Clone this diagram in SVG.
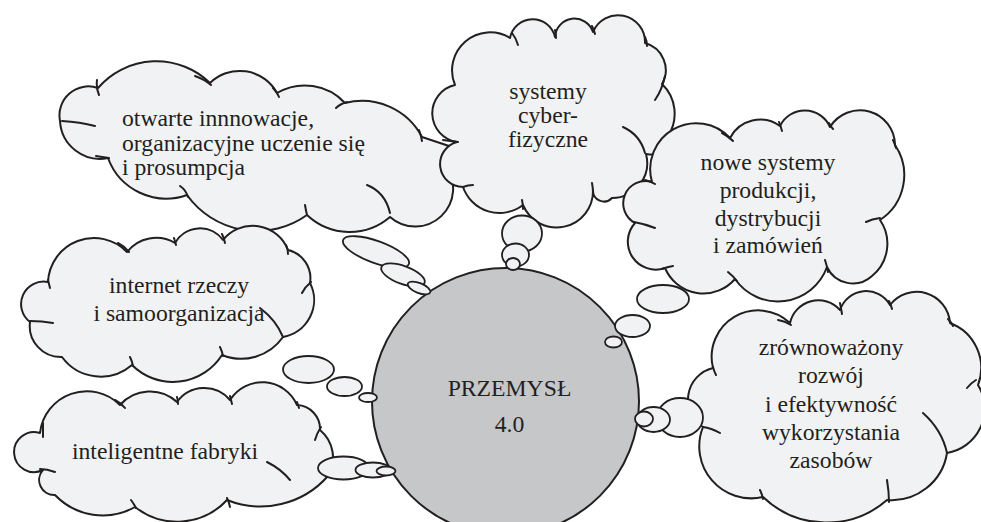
<svg xmlns="http://www.w3.org/2000/svg" width="981" height="522" viewBox="0 0 981 522">
<style>
.cloud{fill:#f1f2f3;stroke:#231f20;stroke-width:2;stroke-linejoin:round}
.crease{fill:none;stroke:#231f20;stroke-width:2;stroke-linecap:round}
.bub{fill:#f1f2f3;stroke:#231f20;stroke-width:1.8}
.hub{fill:#c6c7c9;stroke:#231f20;stroke-width:2}
.t{font-family:"Liberation Serif","Times New Roman",serif;font-size:23.7px;fill:#231f20}
.c{text-anchor:middle}
</style>
<rect width="981" height="522" fill="#ffffff"/>
<g id="cloud-otwarte">
<path class="cloud" d="M98,88 A77,77 0 0 1 210,83 A42.5,42.5 0 0 1 277,93 A55,55 0 0 1 345,103 A68,68 0 0 1 422,137 L455,148 L445,165 A38,38 0 0 1 390,217 A62,62 0 0 1 307,215 A86,86 0 0 1 187,195 A62,62 0 0 1 108,158 A40,40 0 0 1 60,121 A29,29 0 0 1 98,88 Z"/>
<path class="crease" d="M97,80 Q96,88 99,95 M195,76 Q204,79 211,85 M273,88 Q277,92 279,97 M336,108 Q340,104 347,102 M419,130 Q421,135 422,141 M367,185 Q385,192 390,213 M305,205 Q306,211 307,215 M180,186 Q186,190 188,197 M96,156 Q102,157 109,158 M62,121 Q80,122 95,126"/>
<text class="t" x="122" y="126">otwarte innnowacje,</text>
<text class="t" x="122" y="150.5">organizacyjne uczenie się</text>
<text class="t" x="122" y="175">i prosumpcja</text>
</g>
<g id="cloud-systemy">
<path class="cloud" d="M455,85 A38,38 0 0 1 510,38 A23,23 0 0 1 555,37 A19.5,19.5 0 0 1 593,32 A27,27 0 0 1 645,43 A28,28 0 0 1 662,84 A41,41 0 0 1 668,136 Q670,158 646,154 A35,35 0 0 1 612,198 A11,11 0 0 1 593,190 A36.4,36.4 0 0 1 523,205 A38.6,38.6 0 0 1 463,187 A22.9,22.9 0 0 1 457,142 A29,29 0 0 1 455,85 Z"/>
<path class="crease" d="M512,33 Q516,38 518,45 M555,30 Q556,34 556,38 M592,26 Q594,30 595,34 M645,37 Q647,41 647,46 M665,76 Q662,90 655,100 M623,127 A40,40 0 0 1 645,153 M592,183 Q593,188 593,193 M522,200 Q523,204 523,209 M463,187 Q468,185 473,185 M443,140 Q450,141 458,142"/>
<text class="t c" x="548" y="99">systemy</text>
<text class="t c" x="548" y="123">cyber-</text>
<text class="t c" x="548" y="147">fizyczne</text>
</g>
<g id="cloud-nowe">
<path class="cloud" d="M652,182 A46,46 0 0 1 730,138 A34,34 0 0 1 780,126 A27.5,27.5 0 0 1 830,127 A35.1,35.1 0 0 1 895,145 A53.7,53.7 0 0 1 880,220 A41.7,41.7 0 0 1 872,276 A28.5,28.5 0 0 1 827,267 A52.2,52.2 0 0 1 735,279 A41.7,41.7 0 0 1 665,268 A27.9,27.9 0 0 1 635,223 A22.3,22.3 0 0 1 652,182 Z"/>
<path class="crease" d="M722,133 Q728,136 733,141 M779,122 Q781,127 782,131 M829,123 Q831,127 833,129 M893,140 Q895,144 896,148 M866,222 Q872,219 880,218 M825,260 Q827,266 828,272 M728,272 Q733,276 737,281 M662,269 Q667,267 673,266 M634,222 Q645,224 655,228 M645,180 Q650,181 655,184"/>
<text class="t c" x="768" y="170">nowe systemy</text>
<text class="t c" x="768" y="198">produkcji,</text>
<text class="t c" x="768" y="226">dystrybucji</text>
<text class="t c" x="768" y="253">i zamówień</text>
</g>
<g id="cloud-zrownowazony">
<path class="cloud" d="M713,368 A46.5,46.5 0 0 1 790,323 A29,29 0 0 1 840,310 A27.5,27.5 0 0 1 890,305 A33.5,33.5 0 0 1 950,323 A48,48 0 0 1 978,385 A45,45 0 0 1 947,453 A56,56 0 0 1 887,500 A92,92 0 0 1 763,497 A52,52 0 0 1 703,427 A32.5,32.5 0 0 1 713,368 Z"/>
<path class="crease" d="M713,367 Q714,371 716,375 M778,320 Q785,321 791,325 M840,303 Q841,308 842,314 M889,301 Q891,305 892,309 M948,319 Q951,322 953,326 M967,388 Q971,383 976,380 M923,413 Q942,430 947,453 M887,480 Q889,492 889,502 M760,490 Q762,494 763,499 M703,427 Q711,428 720,433"/>
<text class="t c" x="831" y="355">zrównoważony</text>
<text class="t c" x="831" y="383">rozwój</text>
<text class="t c" x="831" y="411.5">i efektywność</text>
<text class="t c" x="831" y="440">wykorzystania</text>
<text class="t c" x="831" y="468">zasobów</text>
</g>
<g id="cloud-internet">
<path class="cloud" d="M48,282 A46,46 0 0 1 127,252 A37,37 0 0 1 175,243 A28.6,28.6 0 0 1 223,240 A38,38 0 0 1 288,250 A29,29 0 0 1 310,283 A37.5,37.5 0 0 1 283,337 A51,51 0 0 1 222,355 A58,58 0 0 1 132,365 A48,48 0 0 1 62,357 A31,31 0 0 1 30,322 A22.5,22.5 0 0 1 48,282 Z"/>
<path class="crease" d="M118,243 Q124,246 129,252 M174,238 Q175,241 176,245 M222,234 Q224,238 225,243 M286,245 Q288,249 288,254 M302,293 Q305,287 311,282 M260,308 Q276,320 283,337 M220,347 Q222,351 223,356 M130,357 Q132,361 133,366 M53,323 Q42,321 30,321 M48,280 Q49,284 50,288"/>
<text class="t c" x="179" y="293">internet rzeczy</text>
<text class="t c" x="179" y="320.5">i samoorganizacja</text>
</g>
<g id="cloud-fabryki">
<path class="cloud" d="M40,433 A47,47 0 0 1 120,405 A40,40 0 0 1 177,402 A33.5,33.5 0 0 1 230,400 A38,38 0 0 1 297,405 A24,24 0 0 1 320,430 A36,36 0 0 1 328,476 A90,90 0 0 1 227,500 A68,68 0 0 1 135,507 A66,66 0 0 1 55,495 A15,15 0 0 1 43,470 A20,20 0 1 1 40,433 Z"/>
<path class="crease" d="M43,423 Q43,430 43,437 M115,400 Q121,403 125,408 M177,397 Q178,400 178,404 M230,396 Q231,400 232,404 M297,402 Q298,405 299,408 M315,440 Q317,433 321,427 M267,462 Q281,469 290,480 M227,498 Q229,502 230,507 M131,500 Q134,504 136,508 M40,469 Q47,469 55,472"/>
<text class="t c" x="165" y="459">inteligentne fabryki</text>
</g>
<g id="hub-przemysl">
<circle class="hub" cx="505.5" cy="401.5" r="133.5"/>
<text class="t c" x="509.5" y="395.5">PRZEMYSŁ</text>
<text class="t c" x="509.5" y="432">4.0</text>
</g>
<g id="connectors">
<ellipse class="bub" cx="376" cy="252" rx="35" ry="11" transform="rotate(20 376 252)"/>
<ellipse class="bub" cx="403" cy="275" rx="23" ry="9" transform="rotate(20 403 275)"/>
<ellipse class="bub" cx="419" cy="288" rx="12" ry="5" transform="rotate(22 419 288)"/>
<ellipse class="bub" cx="522" cy="233.5" rx="20" ry="18"/>
<ellipse class="bub" cx="515.5" cy="255" rx="13.5" ry="11.5"/>
<ellipse class="bub" cx="513" cy="264" rx="7" ry="6"/>
<ellipse class="bub" cx="663" cy="299" rx="26" ry="14"/>
<ellipse class="bub" cx="632.5" cy="326" rx="17.5" ry="11"/>
<ellipse class="bub" cx="613.5" cy="342" rx="8.5" ry="5.5"/>
<ellipse class="bub" cx="308.5" cy="369.5" rx="25.5" ry="13.5"/>
<ellipse class="bub" cx="344.5" cy="386.5" rx="17.5" ry="9.5"/>
<ellipse class="bub" cx="368" cy="397.5" rx="9" ry="4.5"/>
<ellipse class="bub" cx="343.5" cy="468" rx="25.5" ry="11.5"/>
<ellipse class="bub" cx="373" cy="470" rx="17.5" ry="7.5"/>
<ellipse class="bub" cx="386" cy="471" rx="9.5" ry="4.5"/>
<ellipse class="bub" cx="680" cy="417.5" rx="23" ry="19.5"/>
<ellipse class="bub" cx="653.5" cy="419.5" rx="16.5" ry="12.5"/>
<ellipse class="bub" cx="644" cy="419" rx="9" ry="7.5"/>
</g>
</svg>
